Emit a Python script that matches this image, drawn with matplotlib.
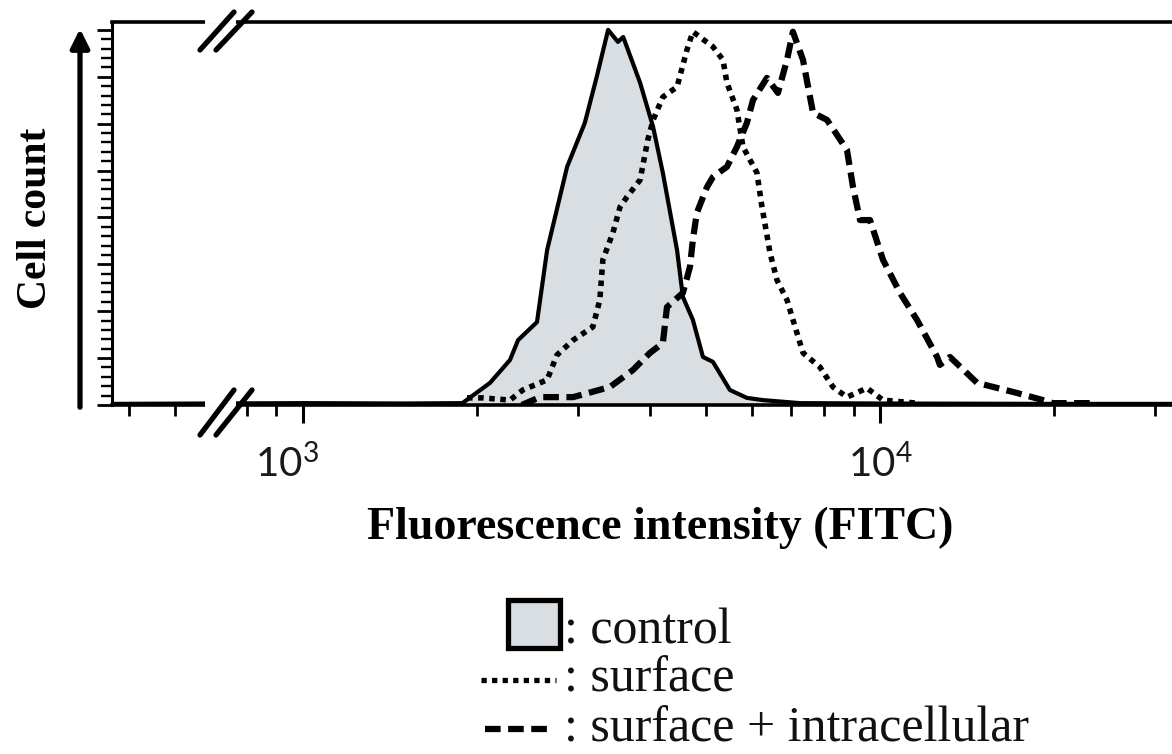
import matplotlib
matplotlib.use("Agg")
import matplotlib.pyplot as plt
import matplotlib.transforms as mtransforms
from matplotlib.lines import Line2D
from matplotlib.patches import Rectangle
from matplotlib.ticker import FixedLocator, MultipleLocator, NullFormatter

# ---- data (FITC intensity, relative cell count) ----
control_x = [470, 1000, 1500, 1890, 2110, 2285, 2360, 2545, 2650, 2870, 3080, 3230,
             3380, 3515, 3590, 3840, 4045, 4205, 4450, 4555, 4740, 4935, 5135, 5495,
             5880, 6270, 7265, 10000, 20000, 32000]
control_y = [0.3, 0.5, 0.4, 0.5, 5.9, 12.0, 17.3, 22.1, 41.3, 63.5, 75.2, 87.5,
             100.0, 96.8, 98.1, 85.9, 74.1, 61.9, 41.3, 28.8, 22.7, 12.8, 11.5, 4.0,
             1.9, 1.3, 0.5, 0.4, 0.3, 0.3]

surface_x = [1925, 2050, 2285, 2405, 2650, 2755, 2940, 3180, 3270, 3310, 3445, 3545,
             3645, 3840, 3960, 4045, 4205, 4450, 4630, 4740, 5135, 5345, 5430, 5650,
             5790, 6120, 6245, 6450, 6630, 6900, 7180, 7355, 7870, 8290, 8765, 9495,
             10120, 11590]
surface_y = [1.9, 1.9, 1.3, 4.0, 6.7, 13.3, 17.3, 20.8, 28.0, 38.7, 45.9, 52.8,
             55.5, 60.0, 70.7, 76.0, 82.1, 84.8, 94.7, 99.5, 95.5, 92.0, 85.9, 78.7,
             68.8, 61.9, 52.8, 40.5, 33.3, 28.0, 19.2, 13.9, 10.1, 4.8, 2.1, 4.5,
             1.3, 0.5]

intra_x = [2395, 2575, 2940, 3405, 3730, 3995, 4205, 4275, 4555, 4685, 4740, 4815,
           5015, 5135, 5430, 5650, 5880, 6025, 6370, 6655, 6900, 7065, 7355, 7655,
           8095, 8765, 8980, 9235, 9610, 10120, 10830, 11590, 12560, 12700, 13220,
           14730, 17280, 19160, 19940, 23390]
intra_y = [0.0, 2.1, 2.1, 4.8, 9.3, 13.9, 16.5, 26.1, 29.9, 36.8, 44.0, 51.2,
           58.1, 60.8, 63.5, 68.8, 75.2, 81.3, 87.2, 83.2, 92.0, 99.5, 92.0, 77.9,
           76.0, 68.0, 58.1, 49.3, 49.3, 38.7, 29.9, 22.7, 12.8, 10.7, 12.8,
           5.9, 3.2, 1.3, 0.5, 0.5]

major_ticks = [1e3, 1e4]
major_labels = [r"$\mathregular{10^{3}}$", r"$\mathregular{10^{4}}$"]
minor_ticks = [500, 600, 800, 900, 2000, 3000, 4000, 5000, 6000, 7000, 8000, 9000,
               20000, 30000]   # 700 is hidden under the axis break

legend_labels = [": control", ": surface", ": surface + intracellular"]

FILL = "#d9dee2"
DOTS = (0, (1, 1))
DASH = (0, (2.5, 1.2))
W, H = 1172, 754


def fx(px):
    return px / W


def fy(py):
    return 1 - py / H


fig = plt.figure(figsize=(W / 100, H / 100), dpi=100)
ax = fig.add_axes([fx(112), fy(405), (1172 - 112) / W, (405 - 22) / H])

ax.fill_between(control_x, control_y, 0, color=FILL, zorder=1, lw=0)
ax.plot(control_x, control_y, color="black", lw=3.0, zorder=3)
ax.plot(surface_x, surface_y, color="black", lw=4.0, ls=DOTS, zorder=4)
ax.plot(intra_x, intra_y, color="black", lw=4.5, ls=DASH, zorder=4)

ax.set_xscale("log")
ax.set_xlim(467, 32060)
ax.set_ylim(0, 102.1)

for s in ("top", "bottom"):
    ax.spines[s].set_linewidth(2.6)
ax.spines["left"].set_linewidth(2.2)
ax.spines["right"].set_visible(False)

ax.xaxis.set_major_locator(FixedLocator(major_ticks))
ax.xaxis.set_minor_locator(FixedLocator(minor_ticks))
ax.set_xticklabels(major_labels)
ax.xaxis.set_minor_formatter(NullFormatter())
ax.tick_params(axis="x", which="major", length=13, width=2.2, pad=15,
               labelsize=29, labelcolor="#1a1a1a")
ax.tick_params(axis="x", which="minor", length=8, width=2.0)
for lab in ax.get_xticklabels():
    lab.set_family("Lato")
# the 10^3 label sits a little left of its tick in the original
lab3 = ax.get_xticklabels()[0]
lab3.set_transform(lab3.get_transform()
                   + mtransforms.ScaledTranslation(-0.16, 0, fig.dpi_scale_trans))

ax.yaxis.set_major_locator(MultipleLocator(12.5))
ax.yaxis.set_minor_locator(MultipleLocator(2.5))
ax.yaxis.set_major_formatter(NullFormatter())
ax.tick_params(axis="y", which="major", length=11, width=2.0)
ax.tick_params(axis="y", which="minor", length=8, width=1.7)

# axis-break marks "//" on top and bottom spines
for (y0, y1) in ((50, 12), (435, 390)):
    ymid = 20 if y0 == 50 else 403
    fig.add_artist(Line2D([fx(208), fx(232)], [fy(ymid), fy(ymid)], color="white",
                          lw=5, zorder=10))
    for (xa, xb) in ((200, 234), (216, 252)):
        fig.add_artist(Line2D([fx(xa), fx(xb)], [fy(y0), fy(y1)], color="black",
                              lw=3.8, solid_capstyle="round", zorder=11))

# arrow beside the count axis
ax.annotate("", xy=(fx(80), fy(26)), xytext=(fx(80), fy(410)),
            xycoords="figure fraction", textcoords="figure fraction",
            arrowprops=dict(arrowstyle="-|>", lw=3.8, color="black", mutation_scale=28))

fig.text(fx(36), fy(218), "Cell count", rotation=90, ha="center", va="center",
         fontsize=30, fontweight="bold", family="Liberation Serif")
fig.text(fx(660), fy(528), "Fluorescence intensity (FITC)", ha="center", va="center",
         fontsize=33, fontweight="bold", family="Liberation Serif")

# legend, drawn by hand below the axes
fig.add_artist(Rectangle((fx(508), fy(648)), 52 / W, 48 / H, transform=fig.transFigure,
                         facecolor=FILL, edgecolor="black", lw=3.8))
fig.add_artist(Line2D([fx(481), fx(556)], [fy(680), fy(680)], color="black", lw=3.8,
                      ls=DOTS))
fig.add_artist(Line2D([fx(485), fx(550)], [fy(729), fy(729)], color="black", lw=4.5,
                      ls=DASH))
for lab, yb in zip(legend_labels, (643, 692, 742)):
    fig.text(fx(564), fy(yb), lab, ha="left", va="baseline", fontsize=36,
             family="Liberation Serif", color="#111111")

fig.savefig("out.png", dpi=100)
